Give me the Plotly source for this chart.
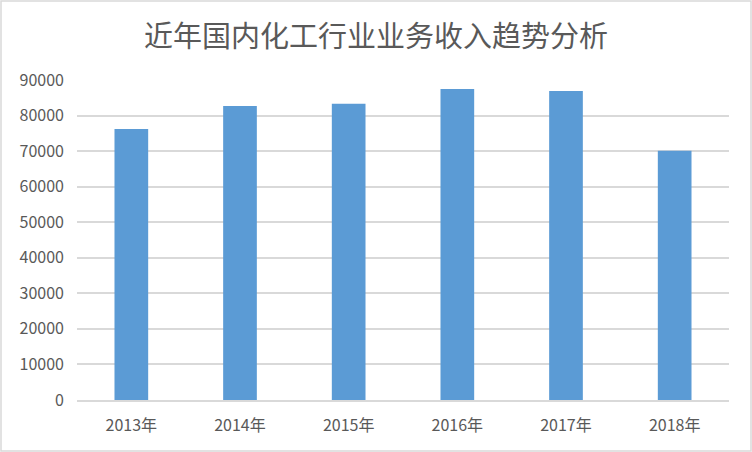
import plotly.graph_objects as go

# 年份与业务收入
years = ['2013年', '2014年', '2015年', '2016年', '2017年', '2018年']
revenue = [76200, 82700, 83300, 87500, 86900, 70100]
y_ticks = [0, 10000, 20000, 30000, 40000, 50000, 60000, 70000, 80000, 90000]

W, H = 752, 452
L, R, T, B = 77, 23, 80, 52
pw, ph = W - L - R, H - T - B

fig = go.Figure()

fig.add_trace(go.Bar(
    x=years,
    y=revenue,
    marker_color='#5b9bd5',
    marker_line_width=0,
    hoverinfo='x+y',
))

fig.update_layout(
    width=W,
    height=H,
    margin=dict(l=L, r=R, t=T, b=B),
    title=dict(
        text='近年国内化工行业业务收入趋势分析',
        x=0.5,
        xref='container',
        xanchor='center',
        y=1 - 37 / H,
        yanchor='middle',
        font=dict(family='Noto Sans CJK SC', size=29, color='#595959'),
    ),
    font=dict(family='Noto Sans CJK SC', size=16, color='#595959'),
    plot_bgcolor='white',
    paper_bgcolor='white',
    bargap=0.69,
    showlegend=False,
    xaxis=dict(
        showline=True,
        linecolor='#d9d9d9',
        linewidth=1.5,
        ticks='',
        ticklabelstandoff=10,
        tickfont=dict(size=16, color='#595959'),
    ),
    yaxis=dict(
        range=[0, 90000],
        tickvals=y_ticks,
        ticktext=[str(v) for v in y_ticks],
        showgrid=True,
        gridcolor='#d9d9d9',
        gridwidth=1.5,
        zeroline=False,
        ticks='',
        ticklabelstandoff=12,
        tickfont=dict(size=16, color='#595959'),
    ),
)

# 外边框
fig.add_shape(
    type='rect',
    xref='paper', yref='paper',
    x0=-(L - 1) / pw, x1=1 + (R - 1) / pw,
    y0=-(B - 1) / ph, y1=1 + (T - 1) / ph,
    line=dict(color='#d9d9d9', width=1.5),
    fillcolor='rgba(0,0,0,0)',
    layer='below',
)

# 去掉页面默认边距，隐藏工具栏
fig.write_html(
    'out.html',
    config={'displayModeBar': False},
    post_script="document.body.style.margin='0';document.body.style.padding='0';",
)
